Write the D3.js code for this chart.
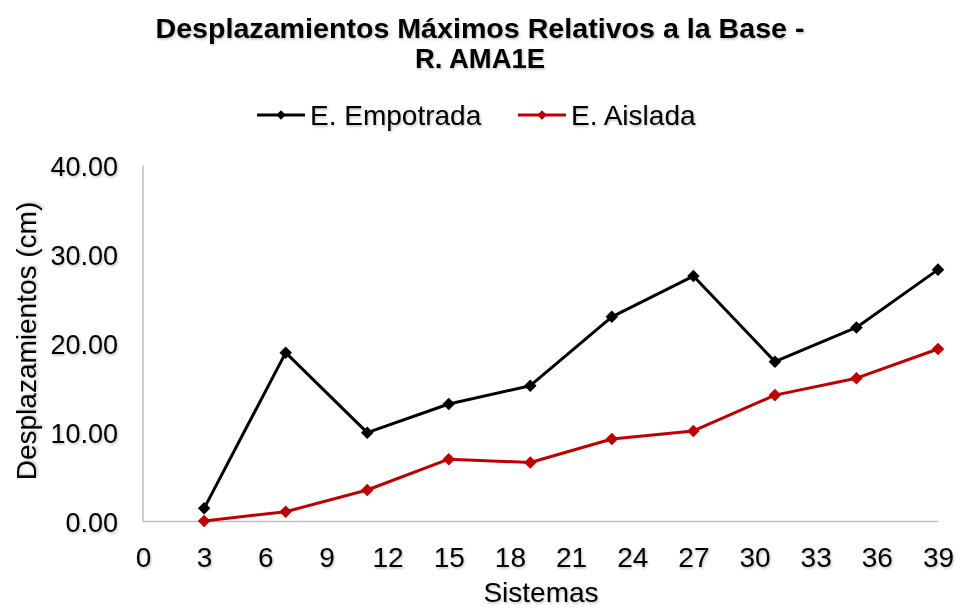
<!DOCTYPE html>
<html><head><meta charset="utf-8">
<script src="https://cdn.jsdelivr.net/npm/d3@7"></script>
<style>body{margin:0;background:#fff}svg{display:block}text{font-family:"Liberation Sans",Arial,sans-serif;fill:#000}</style>
</head><body>
<svg id="c" width="960" height="609"></svg>
<script>
const sistemas = [3, 7, 11, 15, 19, 23, 27, 31, 35, 39];
const empotrada = [1.48, 18.97, 9.98, 13.2, 15.26, 23.0, 27.58, 17.96, 21.8, 28.3];
const aislada = [0.06, 1.1, 3.54, 7.0, 6.63, 9.27, 10.17, 14.2, 16.1, 19.38];
const xTicks = [0, 3, 6, 9, 12, 15, 18, 21, 24, 27, 30, 33, 36, 39];
const yTicks = [0, 10, 20, 30, 40];
const seriesNames = ["E. Empotrada", "E. Aislada"];
const seriesColors = ["#000000", "#c00000"];
const titleLines = ["Desplazamientos Máximos Relativos a la Base -", "R. AMA1E"];

const svg = d3.select("#c");
const defs = svg.append("defs");
const f = defs.append("filter").attr("id", "sh").attr("x", "-10%").attr("y", "-30%").attr("width", "120%").attr("height", "160%");
f.append("feDropShadow").attr("dx", 1).attr("dy", 1.5).attr("stdDeviation", 1)
  .attr("flood-color", "#000").attr("flood-opacity", 0.25);

const x = d3.scaleLinear().domain([0, 39]).range([143, 938]);
const y = d3.scaleLinear().domain([0, 40]).range([521.5, 165.5]);

const diamondType = d3.symbolDiamond2 || {
  draw(ctx, size) { const r = Math.sqrt(size) * 0.62625; ctx.moveTo(0, -r); ctx.lineTo(r, 0); ctx.lineTo(0, r); ctx.lineTo(-r, 0); ctx.closePath(); }
};

// axes lines
svg.append("line").attr("x1", x(0)).attr("x2", x(39)).attr("y1", y(0)).attr("y2", y(0))
  .attr("stroke", "#bfbfbf").attr("stroke-width", 1.5);
svg.append("line").attr("x1", x(0)).attr("x2", x(0)).attr("y1", y(0)).attr("y2", y(40))
  .attr("stroke", "#bfbfbf").attr("stroke-width", 1.5);

// tick labels
const xAxis = d3.axisBottom(x).tickValues(xTicks).tickSize(0).tickPadding(0);
const gx = svg.append("g").attr("transform", `translate(0,${y(0)})`).call(xAxis);
gx.select(".domain").remove();
gx.selectAll("text").attr("font-size", 28).attr("dy", null).attr("y", 45)
  .style("font-family", '"Liberation Sans",Arial,sans-serif').attr("fill", "#000").attr("filter", "url(#sh)");

const yAxis = d3.axisLeft(y).tickValues(yTicks).tickSize(0).tickPadding(0).tickFormat(d3.format(".2f"));
const gy = svg.append("g").attr("transform", `translate(118,0)`).call(yAxis);
gy.select(".domain").remove();
gy.selectAll("text").attr("font-size", 27).attr("x", 0).attr("dy", "0.36em")
  .style("font-family", '"Liberation Sans",Arial,sans-serif').attr("fill", "#000").attr("filter", "url(#sh)");

// titles
const titleW = [649, 130];
svg.append("g").selectAll("text").data(titleLines).join("text")
  .attr("x", 480).attr("y", (d, i) => 38 + i * 30).attr("text-anchor", "middle")
  .attr("font-size", 27).attr("font-weight", "bold")
  .attr("textLength", (d, i) => titleW[i]).attr("lengthAdjust", "spacingAndGlyphs")
  .attr("filter", "url(#sh)").text(d => d);

svg.append("text").attr("x", 541).attr("y", 602).attr("text-anchor", "middle")
  .attr("font-size", 28).attr("filter", "url(#sh)").text("Sistemas");
svg.append("text").attr("transform", "translate(36,341) rotate(-90)").attr("text-anchor", "middle")
  .attr("font-size", 28).attr("filter", "url(#sh)").text("Desplazamientos (cm)");

// series
const diamond = d3.symbol().type(diamondType).size(100);
const data = [empotrada, aislada];
data.forEach((vals, si) => {
  const pts = sistemas.map((s, i) => [s, vals[i]]);
  svg.append("path").datum(pts)
    .attr("d", d3.line().x(d => x(d[0])).y(d => y(d[1])))
    .attr("fill", "none").attr("stroke", seriesColors[si]).attr("stroke-width", 3)
    .attr("stroke-linejoin", "round");
  svg.append("g").selectAll("path").data(pts).join("path")
    .attr("transform", d => `translate(${x(d[0])},${y(d[1])})`)
    .attr("d", diamond).attr("fill", seriesColors[si]);
});

// legend
const legX = [257, 518];
const legW = 48;
const legDiamond = d3.symbol().type(diamondType).size(55);
seriesNames.forEach((name, i) => {
  const g = svg.append("g").attr("transform", `translate(${legX[i]},115)`);
  g.append("line").attr("x1", 0).attr("x2", legW).attr("stroke", seriesColors[i]).attr("stroke-width", 3);
  g.append("path").attr("transform", `translate(${legW / 2},0)`).attr("d", legDiamond).attr("fill", seriesColors[i]);
  g.append("text").attr("x", legW + 5).attr("y", 10).attr("font-size", 28).attr("filter", "url(#sh)").text(name);
});
</script>
</body></html>
